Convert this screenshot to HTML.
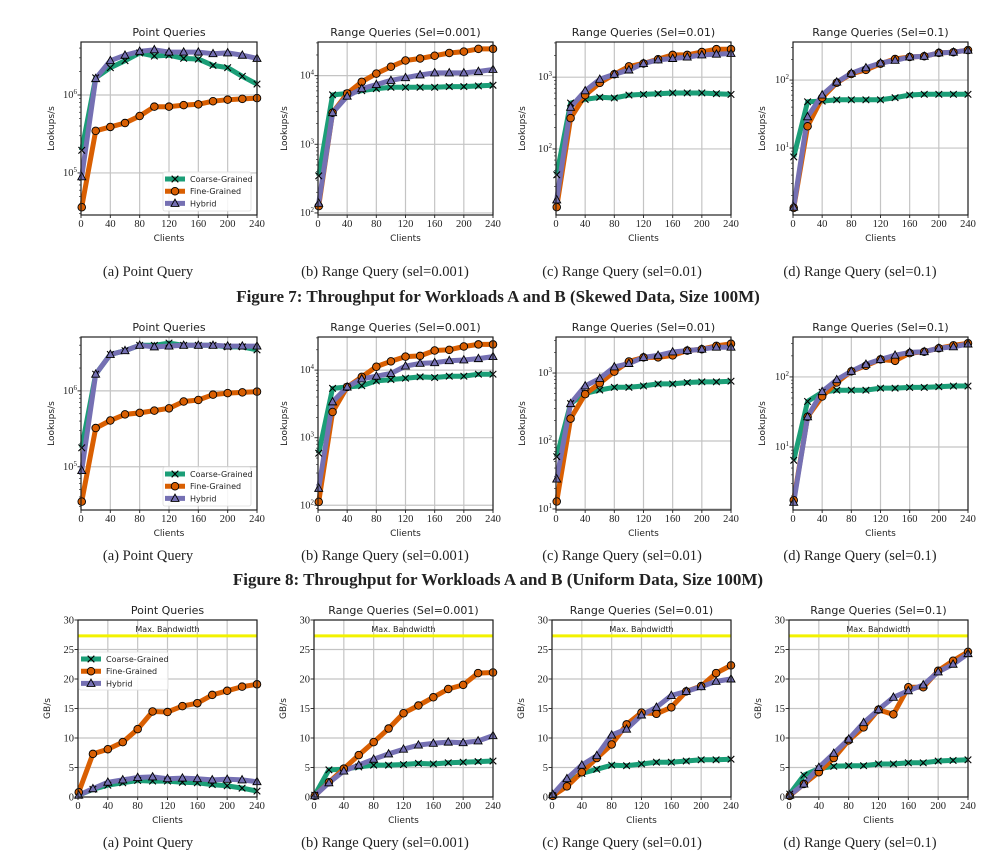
<!DOCTYPE html>
<html><head><meta charset="utf-8"><style>
body{margin:0;background:#fff;}
svg text{fill:#222;}
.ti{font-family:"DejaVu Sans","Liberation Sans",sans-serif;font-size:11px;}
.tk{font-family:"Liberation Serif",serif;font-size:10.5px;}
.al{font-family:"DejaVu Sans","Liberation Sans",sans-serif;font-size:9px;}
.cap{font-family:"Liberation Serif",serif;font-size:14.5px;}
.fig{font-family:"Liberation Serif",serif;font-size:17px;font-weight:bold;}
.lg{font-family:"DejaVu Sans","Liberation Sans",sans-serif;font-size:8px;}
</style></head><body>
<svg id="chart" width="997" height="857" viewBox="0 0 997 857" xmlns="http://www.w3.org/2000/svg"></svg>
<script>
// ---- data ----
const clients=[1,20,40,60,80,100,120,140,160,180,200,220,240];
const seriesNames=["Coarse-Grained","Fine-Grained","Hybrid"];
// Figure 7 (log10 lookups/s)
const f7aCoarse=[5.29,6.22,6.35,6.44,6.54,6.5,6.51,6.47,6.46,6.38,6.35,6.24,6.14];
const f7aFine=[4.56,5.54,5.59,5.64,5.73,5.85,5.85,5.87,5.88,5.92,5.94,5.95,5.96];
const f7aHybrid=[4.95,6.21,6.44,6.51,6.56,6.58,6.55,6.55,6.55,6.53,6.54,6.51,6.47];
const f7bCoarse=[2.54,3.72,3.74,3.78,3.81,3.83,3.83,3.83,3.83,3.84,3.84,3.85,3.86];
const f7bFine=[2.1,3.46,3.74,3.91,4.03,4.13,4.22,4.25,4.29,4.33,4.35,4.39,4.39];
const f7bHybrid=[2.14,3.46,3.70,3.81,3.87,3.93,3.97,4.01,4.04,4.04,4.04,4.06,4.09];
const f7cCoarse=[1.64,2.64,2.69,2.72,2.71,2.75,2.76,2.77,2.78,2.78,2.78,2.77,2.76];
const f7cFine=[1.19,2.43,2.75,2.92,3.04,3.15,3.19,3.25,3.31,3.31,3.35,3.39,3.39];
const f7cHybrid=[1.29,2.58,2.81,2.97,3.04,3.1,3.19,3.24,3.26,3.28,3.31,3.32,3.33];
const f7dCoarse=[0.87,1.68,1.69,1.71,1.71,1.71,1.71,1.74,1.78,1.79,1.79,1.79,1.79];
const f7dFine=[0.12,1.32,1.74,1.96,2.09,2.15,2.24,2.31,2.34,2.35,2.4,2.41,2.44];
const f7dHybrid=[0.13,1.46,1.78,1.97,2.1,2.18,2.25,2.29,2.34,2.35,2.4,2.41,2.44];
// Figure 8 (log10 lookups/s)
const f8aCoarse=[5.25,6.22,6.48,6.53,6.6,6.6,6.63,6.6,6.6,6.6,6.58,6.58,6.54];
const f8aFine=[4.54,5.51,5.61,5.69,5.71,5.74,5.77,5.86,5.88,5.95,5.97,5.98,5.99];
const f8aHybrid=[4.95,6.22,6.48,6.53,6.6,6.58,6.59,6.6,6.6,6.6,6.59,6.59,6.59];
const f8bCoarse=[2.77,3.73,3.75,3.77,3.84,3.86,3.88,3.9,3.89,3.91,3.91,3.94,3.94];
const f8bFine=[2.05,3.38,3.75,3.9,4.05,4.13,4.2,4.21,4.29,4.3,4.35,4.38,4.38];
const f8bHybrid=[2.25,3.53,3.75,3.87,3.91,3.95,4.06,4.1,4.11,4.14,4.15,4.17,4.2];
const f8cCoarse=[1.77,2.55,2.7,2.75,2.79,2.79,2.81,2.84,2.84,2.86,2.87,2.87,2.88];
const f8cFine=[1.11,2.33,2.69,2.85,3.02,3.17,3.23,3.23,3.26,3.33,3.35,3.4,3.43];
const f8cHybrid=[1.44,2.55,2.81,2.92,3.09,3.14,3.23,3.26,3.31,3.33,3.35,3.38,3.38];
const f8dCoarse=[0.81,1.65,1.78,1.81,1.81,1.81,1.84,1.84,1.85,1.85,1.86,1.87,1.87];
const f8dFine=[0.24,1.43,1.72,1.92,2.08,2.16,2.25,2.23,2.34,2.36,2.41,2.45,2.48];
const f8dHybrid=[0.21,1.43,1.79,1.96,2.08,2.18,2.25,2.31,2.35,2.36,2.41,2.43,2.47];
// Figure 9 (GB/s)
const f9aCoarse=[0.3,1.3,2.0,2.4,2.8,2.7,2.7,2.5,2.4,2.1,1.9,1.5,1.0];
const f9aFine=[0.8,7.3,8.1,9.3,11.5,14.5,14.4,15.4,15.9,17.3,18.0,18.7,19.1];
const f9aHybrid=[0.3,1.4,2.5,2.9,3.3,3.4,3.1,3.2,3.1,2.9,3.0,2.9,2.6];
const f9bCoarse=[0.3,4.6,4.7,5.1,5.4,5.4,5.5,5.7,5.6,5.8,5.9,6.0,6.1];
const f9bFine=[0.2,2.5,4.8,7.1,9.3,11.6,14.2,15.5,16.9,18.3,19.0,21.0,21.1];
const f9bHybrid=[0.2,2.4,4.4,5.4,6.4,7.3,8.1,8.8,9.1,9.3,9.2,9.5,10.4];
const f9cCoarse=[0.2,2.4,4.0,4.7,5.4,5.3,5.6,5.9,5.9,6.1,6.3,6.3,6.4];
const f9cFine=[0.2,1.8,4.2,6.6,8.9,12.3,14.3,14.1,15.2,17.9,18.8,21.0,22.3];
const f9cHybrid=[0.4,3.1,5.4,7.0,10.5,11.5,13.9,15.2,17.2,17.9,18.7,19.6,20.0];
const f9dCoarse=[0.5,3.7,4.8,5.2,5.3,5.3,5.6,5.6,5.8,5.8,6.1,6.2,6.3];
const f9dFine=[0.2,2.2,4.2,6.6,9.6,11.8,14.8,14.0,18.6,18.6,21.4,23.1,24.6];
const f9dHybrid=[0.3,2.2,5.0,7.4,9.8,12.6,14.8,16.9,18.0,19.0,21.2,22.5,24.3];
const maxBandwidth=27.3;
const xTicks=[0,40,80,120,160,200,240];
const linTicks=[0,5,10,15,20,25,30];
const panelTitles=["Point Queries","Range Queries (Sel=0.001)","Range Queries (Sel=0.01)","Range Queries (Sel=0.1)"];
const captions=["(a)  Point Query","(b)  Range Query (sel=0.001)","(c)  Range Query (sel=0.01)","(d)  Range Query (sel=0.1)"];

const NS="http://www.w3.org/2000/svg";
const svg=document.getElementById('chart');
function mk(tag,attrs,parent,txt){const e=document.createElementNS(NS,tag);for(const k in attrs)e.setAttribute(k,attrs[k]);if(txt!==undefined)e.textContent=txt;(parent||svg).appendChild(e);return e;}
const colors=["#1b9e77","#d95f02","#7570b3"];

const rows=[
 {top:42,bot:215,xs:[[81,257],[318,493],[556,731],[793,968]],log:true,ranges:[[4.46,6.68],[1.97,4.49],[1.08,3.49],[0.015,2.56]],
  data:[[f7aCoarse,f7aFine,f7aHybrid],[f7bCoarse,f7bFine,f7bHybrid],[f7cCoarse,f7cFine,f7cHybrid],[f7dCoarse,f7dFine,f7dHybrid]],cap:271,fig:"Figure 7: Throughput for Workloads A and B (Skewed Data, Size 100M)",figY:297,id:"fig7"},
 {top:337,bot:510,xs:[[81,257],[318,493],[556,731],[793,968]],log:true,ranges:[[4.43,6.71],[1.93,4.49],[0.985,3.53],[0.1,2.57]],
  data:[[f8aCoarse,f8aFine,f8aHybrid],[f8bCoarse,f8bFine,f8bHybrid],[f8cCoarse,f8cFine,f8cHybrid],[f8dCoarse,f8dFine,f8dHybrid]],cap:555,fig:"Figure 8: Throughput for Workloads A and B (Uniform Data, Size 100M)",figY:580,id:"fig8"},
 {top:620,bot:797,xs:[[78,257],[314,493],[552,731],[789,968]],log:false,ranges:[[0,30],[0,30],[0,30],[0,30]],
  data:[[f9aCoarse,f9aFine,f9aHybrid],[f9bCoarse,f9bFine,f9bHybrid],[f9cCoarse,f9cFine,f9cHybrid],[f9dCoarse,f9dFine,f9dHybrid]],cap:842,id:"fig9"}
];
const letters=["a","b","c","d"];
rows.forEach((r,ri)=>{
 r.xs.forEach((xr,pi)=>{
  const g=mk('g',{});
  
  
  const [x0,x1]=xr,[y0,y1]=[r.top,r.bot],[lo,hi]=r.ranges[pi];
  const X=v=>x0+(v/240)*(x1-x0);
  const Y=v=>y1-(v-lo)/(hi-lo)*(y1-y0);
  // grid
  xTicks.forEach(t=>{mk('line',{x1:X(t),x2:X(t),y1:y0,y2:y1,stroke:'#c4c4c4','stroke-width':1.2},g);
   const tx=mk('text',{x:X(t),y:y1+12,'text-anchor':'middle',class:'tk'},g,String(t));
   
   mk('line',{x1:X(t),x2:X(t),y1:y1,y2:y1+3,stroke:'#333'},g);});
  if(r.log){
   for(let d=Math.floor(lo);d<=Math.ceil(hi);d++){
    for(let m=1;m<10;m++){const v=d+Math.log10(m);if(v<lo||v>hi)continue;
     if(m===1){mk('line',{x1:x0,x2:x1,y1:Y(v),y2:Y(v),stroke:'#c4c4c4','stroke-width':1.2},g);
      mk('line',{x1:x0-3.5,x2:x0,y1:Y(v),y2:Y(v),stroke:'#333'},g);
      const t=mk('text',{x:x0-4,y:Y(v)+3,'text-anchor':'end',class:'tk'},g);
      
      mk('tspan',{},t,'10');mk('tspan',{dy:-4,'font-size':'7px'},t,String(d));
     } else mk('line',{x1:x0-2,x2:x0,y1:Y(v),y2:Y(v),stroke:'#333','stroke-width':0.7},g);}
   }
  } else {
   linTicks.forEach(v=>{mk('line',{x1:x0,x2:x1,y1:Y(v),y2:Y(v),stroke:'#c4c4c4','stroke-width':1.2},g);
    mk('line',{x1:x0-3.5,x2:x0,y1:Y(v),y2:Y(v),stroke:'#333'},g);
    const t=mk('text',{x:x0-4,y:Y(v)+3.5,'text-anchor':'end',class:'tk'},g,String(v));
    });
   const bw=mk('line',{x1:x0,x2:x1,y1:Y(maxBandwidth),y2:Y(maxBandwidth),stroke:'#f2f200','stroke-width':3},g);
   
   const bt=mk('text',{x:(x0+x1)/2,y:Y(maxBandwidth)-4,'text-anchor':'middle',class:'lg'},g,'Max. Bandwidth');
   
  }
  // series
  const clip='c'+ri+pi;
  const cp=mk('clipPath',{id:clip},g);mk('rect',{x:x0-6,y:y0-6,width:x1-x0+12,height:y1-y0+12},cp);
  const sg=mk('g',{'clip-path':'url(#'+clip+')'},g);
  r.data[pi].forEach((vals,si)=>{
   const pts=vals.map((v,i)=>X(clients[i]).toFixed(1)+','+Y(v).toFixed(1)).join(' ');
   const pl=mk('polyline',{points:pts,fill:'none',stroke:colors[si],'stroke-width':5,'stroke-linejoin':'round'},sg);
   
   
  });
  r.data[pi].forEach((vals,si)=>{
   vals.forEach((v,i)=>{const cx=X(clients[i]),cy=Y(v);let m;
    if(si===0){m=mk('path',{d:`M${cx-3.3},${cy-3.3}L${cx+3.3},${cy+3.3}M${cx-3.3},${cy+3.3}L${cx+3.3},${cy-3.3}`,stroke:'#000','stroke-width':1.1},sg);}
    else if(si===1){m=mk('circle',{cx:cx,cy:cy,r:3.8,fill:colors[1],stroke:'#000','stroke-width':0.9},sg);}
    else {m=mk('path',{d:`M${cx},${cy-4.3}L${cx+4},${cy+3}L${cx-4},${cy+3}Z`,fill:colors[2],stroke:'#000','stroke-width':0.9},sg);}
    
    });
  });
  const fr=mk('rect',{x:x0,y:y0,width:x1-x0,height:y1-y0,fill:'none',stroke:'#222','stroke-width':1.2},g);
  
  const tt=mk('text',{x:(x0+x1)/2,y:y0-6,'text-anchor':'middle',class:'ti'},g,panelTitles[pi]);
  
  const xl=mk('text',{x:(x0+x1)/2,y:y1+26,'text-anchor':'middle',class:'al'},g,'Clients');
  
  const ylx=r.log?x0-(pi===0?27:(pi===3?28:31)):x0-28;
  const yl=mk('text',{x:ylx,y:(y0+y1)/2,'text-anchor':'middle',class:'al',transform:`rotate(-90 ${ylx} ${(y0+y1)/2})`},g,r.log?'Lookups/s':'GB/s');
  
  const capX=[148,385,622,860][pi];
  const ct=mk('text',{x:capX,y:r.cap+5,'text-anchor':'middle',class:'cap'},null,captions[pi]);
  
  // legend
  if(pi===0){
   let lx,ly,lw,lh;
   if(r.log){lx=163;ly=r.bot-43;lw=88;lh=39;} else {lx=79;ly=652;lw=89;lh=38;}
   const lg=mk('g',{},g);
   
   mk('rect',{x:lx,y:ly,width:lw,height:lh,fill:'#fff','fill-opacity':0.85,stroke:'#ddd','stroke-width':0.8,rx:2},lg);
   seriesNames.forEach((n,si)=>{const yy=ly+7+si*12.2;
    const e=mk('g',{},lg);
    
    mk('line',{x1:lx+2,x2:lx+22,y1:yy,y2:yy,stroke:colors[si],'stroke-width':5},e);
    const cx=lx+12,cy=yy;
    if(si===0)mk('path',{d:`M${cx-3.3},${cy-3.3}L${cx+3.3},${cy+3.3}M${cx-3.3},${cy+3.3}L${cx+3.3},${cy-3.3}`,stroke:'#000','stroke-width':1.1},e);
    else if(si===1)mk('circle',{cx:cx,cy:cy,r:3.8,fill:colors[1],stroke:'#000','stroke-width':0.9},e);
    else mk('path',{d:`M${cx},${cy-4.3}L${cx+4},${cy+3}L${cx-4},${cy+3}Z`,fill:colors[2],stroke:'#000','stroke-width':0.9},e);
    mk('text',{x:lx+27,y:yy+3,class:'lg'},e,n);});
  }
 });
 if(r.fig){const f=mk('text',{x:498,y:r.figY+5,'text-anchor':'middle',class:'fig'},null,r.fig);
  }
});
</script>
</body></html>
